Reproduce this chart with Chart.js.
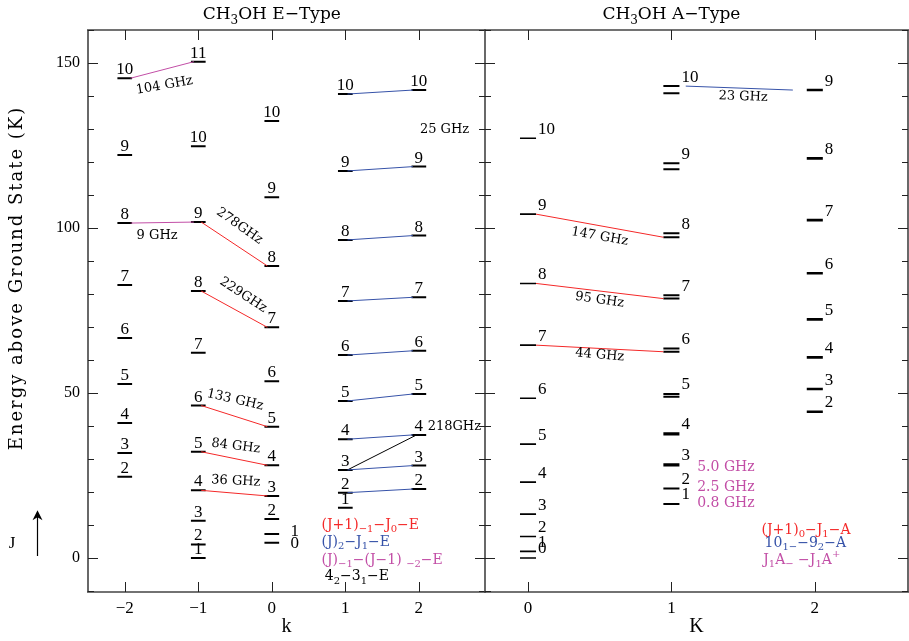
<!DOCTYPE html>
<html><head><meta charset="utf-8">
<script src="https://cdn.jsdelivr.net/npm/chart.js@4.4.1/dist/chart.umd.min.js"></script>
<style>
html,body{margin:0;padding:0;background:#fff;overflow:hidden}
#wrap{position:relative;width:909px;height:641px}
canvas{position:absolute;top:0}
#cL{left:0}
#cR{left:484px}
</style></head><body>
<div id="wrap"><canvas id="cL" width="486" height="641"></canvas><canvas id="cR" width="425" height="641"></canvas></div>
<script>
// ================= DATA =================
// E-type levels: J values and energies (K) for each k ladder
const eJ_m2 = [2,3,4,5,6,7,8,9,10];
const eE_m2 = [24.6,31.8,40.9,52.7,66.7,82.7,101.5,122.1,145.4];
const eJ_m1 = [1,2,3,4,5,6,7,8,9,10,11];
const eE_m1 = [0,4.1,11.3,20.5,32.2,46.2,62.2,80.9,101.8,124.8,150.4];
const eJ_0  = [0,1,2,3,4,5,6,7,8,9,10];
const eE_0  = [4.6,7.3,11.8,18.8,28.1,39.8,53.6,69.9,88.5,109.3,132.4];
const eJ_p1 = [1,2,3,4,5,6,7,8,9,10];
const eE_p1 = [15.2,19.8,26.7,36.0,47.6,61.5,77.9,96.4,117.3,140.6];
const eJ_p2 = [2,3,4,5,6,7,8,9,10];
const eE_p2 = [20.9,28.0,37.3,49.7,62.8,79.0,97.7,118.6,141.8];

// E-type transitions: [k_from, J_from, k_to, J_to]
const eRed     = [[-1,4,0,3],[-1,5,0,4],[-1,6,0,5],[-1,8,0,7],[-1,9,0,8]];
const eBlue    = [[1,2,2,2],[1,3,2,3],[1,4,2,4],[1,5,2,5],[1,6,2,6],[1,7,2,7],[1,8,2,8],[1,9,2,9],[1,10,2,10]];
const eMagenta = [[-2,10,-1,11],[-2,8,-1,9]];
const eBlack   = [[1,3,2,4]];
const eTransText = ['104 GHz','9 GHz','278GHz','229GHz','133 GHz','84 GHz','36 GHz','218GHz','25 GHz'];
const eLegend = ['(J+1)_{−1}−J_{0}−E','(J)_{2}−J_{1}−E','(J)_{−1}−(J−1) _{−2}−E','4_{2}−3_{1}−E'];

// A-type levels
const aJ_0 = [0,1,2,3,4,5,6,7,8,9,10];
const aE_0 = [0,2.0,6.5,13.3,23.0,34.5,48.4,64.5,83.2,104.2,127.2];
const aJ_1 = [1,2,3,4,5,6,7,8,9,10];
const aE_1hi = [16.4,21.1,28.4,37.8,49.7,63.5,79.6,98.4,119.6,143.0];
const aE_1lo = [16.4,21.1,28.0,37.4,48.9,62.5,78.6,97.2,117.8,140.8];
const aJ_2 = [2,3,4,5,6,7,8,9];
const aE_2 = [44.3,51.2,60.8,72.3,86.3,102.4,121.1,141.8];
// A-type transitions
const aRed  = [[0,7,1,6],[0,8,1,7],[0,9,1,8]];   // K=0 J -> K=1 (lower) J-1
const aBlue = [[1,10,2,9]];                      // K=1 (upper) 10 -> K=2 9
const aTransText = ['23 GHz','147 GHz','95 GHz','44 GHz'];
const aSplitText = ['5.0 GHz','2.5 GHz','0.8 GHz'];
const aLegend = ['(J+1)_{0}−J_{1}−A','10_{1}_{−}−9_{2}−A','J_{1}A_{−} −J_{1}A^{+}'];

const eTicks = [-2,-1,0,1,2];
const aTicks = [0,1,2];

// ================= STYLE / PLACEMENT =================
const RED='#f42828', BLUE='#3652a8', MAG='#c24ea6';
const SERIF='"Liberation Serif", serif', WIDE='"DejaVu Serif", serif';
const ePlace = [ // placement of eTransText (data coords, rotation deg, align)
  {x:-1.46,y:143.2,r:-10},{x:-1.56,y:97.6,r:0},{x:-0.44,y:100.6,r:35},{x:-0.39,y:79.7,r:33},
  {x:-0.50,y:47.9,r:13},{x:-0.49,y:33.9,r:7},{x:-0.49,y:23.3,r:3},{x:2.12,y:39.7,r:0,a:'left'},{x:2.35,y:129.7,r:0}];
const aPlace = [{x:1.50,y:139.8,r:2},{x:0.50,y:97.4,r:10},{x:0.50,y:78.2,r:8},{x:0.50,y:61.5,r:5}];
const aSplitPlace = [{x:1.18,y:27.6},{x:1.18,y:21.5},{x:1.18,y:16.7}];
const eLegPlace = [{x:0.676,y:10.0,c:RED},{x:0.676,y:4.75,c:BLUE},{x:0.676,y:-0.6,c:MAG},{x:0.72,y:-5.7,c:'#000'}];
const aLegPlace = [{x:1.628,y:8.5,c:RED},{x:1.65,y:4.5,c:BLUE},{x:1.64,y:-0.6,c:MAG}];

const eLevels = [
  {k:-2,J:eJ_m2,E:eE_m2},{k:-1,J:eJ_m1,E:eE_m1},{k:0,J:eJ_0,E:eE_0},{k:1,J:eJ_p1,E:eE_p1},{k:2,J:eJ_p2,E:eE_p2}];
const aLevels0 = {k:0,J:aJ_0,E:aE_0};
const aLevels1hi = {k:1,J:aJ_1,E:aE_1hi};
const aLevels1lo = {k:1,J:aJ_1,E:aE_1lo};
const aLevels2 = {k:2,J:aJ_2,E:aE_2};

function findE(levels,k,J){const L=levels.find(l=>l.k===k);return L.E[L.J.indexOf(J)];}
function levelSegs(levels,half){const p=[];levels.forEach(L=>L.E.forEach(e=>{p.push({x:L.k-half,y:e},{x:L.k+half,y:e},{x:null,y:null});}));return p;}
function transSegs(list,fromLv,toLv,d1,d2){const p=[];list.forEach(t=>{p.push({x:t[0]+d1,y:findE(fromLv,t[0],t[1])},{x:t[2]-d2,y:findE(toLv,t[2],t[3])},{x:null,y:null});});return p;}
function ds(data,color,w){return {data,borderColor:color,backgroundColor:color,borderWidth:w,showLine:true,pointRadius:0,spanGaps:false,fill:false,tension:0};}

function drawRich(ctx,x,y,str,o){
  const parts=[];let i=0;
  const isM=(j)=>(str[j]==='_'||str[j]==='^')&&str[j+1]==='{';
  while(i<str.length){
    if(isM(i)){const end=str.indexOf('}',i);parts.push({t:str.slice(i+2,end),m:str[i]});i=end+1;}
    else{let j=i;while(j<str.length&&!isM(j))j++;parts.push({t:str.slice(i,j),m:''});i=j;}
  }
  const fs=o.size,ss=Math.round(fs*0.72);
  const fm=`${fs}px ${o.family}`,fsb=`${ss}px ${o.family}`;
  let w=0;parts.forEach(p=>{ctx.font=p.m?fsb:fm;p.w=ctx.measureText(p.t).width;w+=p.w;});
  ctx.save();ctx.translate(x,y);if(o.rot)ctx.rotate(o.rot*Math.PI/180);
  let cx=o.align==='center'?-w/2:o.align==='right'?-w:0;
  ctx.fillStyle=o.color||'#000';ctx.textBaseline='middle';ctx.textAlign='left';
  parts.forEach(p=>{ctx.font=p.m?fsb:fm;const dy=p.m==='_'?fs*0.32:p.m==='^'?-fs*0.38:0;ctx.fillText(p.t,cx,dy);cx+=p.w;});
  ctx.restore();
}

function frameAndTicks(chart,sides){
  const {ctx,chartArea:a,scales:{x,y}}=chart;
  ctx.save();
  ctx.strokeStyle='#444';ctx.lineWidth=1.6;
  ctx.beginPath();
  ctx.moveTo(a.left-1,a.top);ctx.lineTo(a.right+1,a.top);
  ctx.moveTo(a.left-1,a.bottom);ctx.lineTo(a.right+1,a.bottom);
  if(sides.left){ctx.moveTo(a.left,a.top);ctx.lineTo(a.left,a.bottom);}
  if(sides.right){ctx.moveTo(a.right,a.top);ctx.lineTo(a.right,a.bottom);}
  ctx.stroke();
  ctx.strokeStyle='#222';ctx.lineWidth=1;ctx.beginPath();
  y.ticks.forEach(t=>{
    if(Math.abs(t.value%10)>1e-6)return;
    const py=Math.round(y.getPixelForValue(t.value))+0.5;
    const L=(t.value%50===0)?10:6;
    if(sides.tl){ctx.moveTo(a.left,py);ctx.lineTo(a.left+L,py);}
    if(sides.tr){ctx.moveTo(a.right,py);ctx.lineTo(a.right-L,py);}
  });
  x.ticks.forEach(t=>{
    if(!Number.isInteger(t.value))return;
    const px=Math.round(x.getPixelForValue(t.value))+0.5;
    ctx.moveTo(px,a.top);ctx.lineTo(px,a.top+10);
    ctx.moveTo(px,a.bottom);ctx.lineTo(px,a.bottom-10);
  });
  ctx.stroke();
  ctx.restore();
}

// ================= LEFT (E-type) =================
const leftDatasets=[
  ds(transSegs(eRed,eLevels,eLevels,0.04,0.06),RED,1),
  ds(transSegs(eBlue,eLevels,eLevels,0.03,0.08),BLUE,1),
  ds(transSegs(eMagenta,eLevels,eLevels,0.08,0.06),MAG,1),
  ds(transSegs(eBlack,eLevels,eLevels,0.03,0.03),'#000',1),
  ds(levelSegs(eLevels,0.1),'#000',2)
];
const leftDeco={id:'leftDeco',afterDatasetsDraw(chart){
  const {ctx,scales:{x,y}}=chart;
  frameAndTicks(chart,{left:true,right:true,tl:true,tr:true});
  ctx.save();
  ctx.fillStyle='#000';ctx.font=`17px ${SERIF}`;ctx.textAlign='center';ctx.textBaseline='alphabetic';
  eLevels.forEach(L=>L.J.forEach((J,i)=>{
    const px=x.getPixelForValue(L.k),py=y.getPixelForValue(L.E[i]);
    if(L.k===0&&J<=1){ctx.textBaseline='middle';ctx.fillText(String(J),px+23,py+(J===1?-2:1));ctx.textBaseline='alphabetic';}
    else ctx.fillText(String(J),px,py-4);
  }));
  eTransText.forEach((t,i)=>{const p=ePlace[i];
    drawRich(ctx,x.getPixelForValue(p.x),y.getPixelForValue(p.y),t,{size:13,family:WIDE,rot:p.r,align:p.a||'center',color:'#000'});});
  eLegend.forEach((t,i)=>{const p=eLegPlace[i];
    drawRich(ctx,x.getPixelForValue(p.x),y.getPixelForValue(p.y),t,{size:14,family:WIDE,align:'left',color:p.c});});
  // panel title
  drawRich(ctx,x.getPixelForValue(0),15,'CH_{3}OH E−Type',{size:17,family:WIDE,align:'center',color:'#000'});
  // y axis title
  ctx.save();ctx.translate(17,278);ctx.rotate(-Math.PI/2);
  ctx.font=`18px ${WIDE}`;ctx.letterSpacing='2px';ctx.textAlign='center';ctx.textBaseline='middle';ctx.fillStyle='#000';
  ctx.fillText('Energy above Ground State (K)',0,0);ctx.restore();
  // J arrow
  ctx.font=`17px ${SERIF}`;ctx.textAlign='center';ctx.textBaseline='middle';ctx.fillText('J',12,y.getPixelForValue(4.5));
  const y0=y.getPixelForValue(0.6),y1=y.getPixelForValue(14.5);
  ctx.strokeStyle='#000';ctx.lineWidth=1.2;ctx.beginPath();ctx.moveTo(37.5,y0);ctx.lineTo(37.5,y1+4);ctx.stroke();
  ctx.beginPath();ctx.moveTo(37.5,y1);ctx.lineTo(32.5,y1+10);ctx.lineTo(37.5,y1+7);ctx.lineTo(42.5,y1+10);ctx.closePath();ctx.fill();
  ctx.restore();
}};

const tickFont={family:'Liberation Serif',size:17};
new Chart(document.getElementById('cL'),{
  type:'scatter',data:{datasets:leftDatasets},
  options:{responsive:false,animation:false,events:[],
    layout:{padding:{top:30,right:1,left:0,bottom:0}},
    plugins:{legend:{display:false},tooltip:{enabled:false}},
    scales:{
      x:{type:'linear',min:-2.5,max:2.9,afterFit(s){s.height=49;},grid:{display:false,drawTicks:false},border:{display:false},
        ticks:{stepSize:1,includeBounds:false,padding:6,color:'#000',font:tickFont,callback:v=>eTicks.includes(v)?String(v).replace('-','−'):''},
        title:{display:true,text:'k',color:'#000',font:{family:'Liberation Serif',size:20},padding:{top:0,bottom:2}}},
      y:{type:'linear',min:-10.3,max:160,afterFit(s){s.width=88;},grid:{display:false,drawTicks:false},border:{display:false},
        ticks:{stepSize:10,includeBounds:false,autoSkip:false,padding:8,color:'#000',font:{family:'Liberation Serif',size:16},callback:v=>(v%50===0)?String(v):''}}
    }},
  plugins:[leftDeco]
});

// ================= RIGHT (A-type) =================
const aAll=[aLevels0,aLevels1lo,aLevels2];
const aAllHi=[aLevels0,aLevels1hi,aLevels2];
const rightDatasets=[
  ds(transSegs(aRed,aAll,aAll,0.056,0.056),RED,1),
  ds(transSegs(aBlue,aAllHi,aAllHi,0.1,0.153),BLUE,1),
  ds(levelSegs([aLevels0],0.056),'#000',1.6),
  ds(levelSegs([aLevels1hi,aLevels1lo],0.056),'#000',2),
  ds(levelSegs([aLevels2],0.056),'#000',2.6)
];
const rightDeco={id:'rightDeco',afterDatasetsDraw(chart){
  const {ctx,scales:{x,y}}=chart;
  frameAndTicks(chart,{left:false,right:true,tl:true,tr:true});
  ctx.save();
  ctx.fillStyle='#000';ctx.font=`17px ${SERIF}`;ctx.textAlign='left';ctx.textBaseline='middle';
  [aLevels0,aLevels1hi,aLevels2].forEach(L=>L.J.forEach((J,i)=>{
    const px=x.getPixelForValue(L.k+0.056)+2,py=y.getPixelForValue(L.E[i]);
    ctx.fillText(String(J),px,py-9);
  }));
  aTransText.forEach((t,i)=>{const p=aPlace[i];
    drawRich(ctx,x.getPixelForValue(p.x),y.getPixelForValue(p.y),t,{size:13,family:WIDE,rot:p.r,align:'center',color:'#000'});});
  aSplitText.forEach((t,i)=>{const p=aSplitPlace[i];
    drawRich(ctx,x.getPixelForValue(p.x),y.getPixelForValue(p.y),t,{size:14,family:WIDE,align:'left',color:MAG});});
  aLegend.forEach((t,i)=>{const p=aLegPlace[i];
    drawRich(ctx,x.getPixelForValue(p.x),y.getPixelForValue(p.y),t,{size:14,family:WIDE,align:'left',color:p.c});});
  drawRich(ctx,x.getPixelForValue(1),15,'CH_{3}OH A−Type',{size:17,family:WIDE,align:'center',color:'#000'});
  ctx.restore();
}};
new Chart(document.getElementById('cR'),{
  type:'scatter',data:{datasets:rightDatasets},
  options:{responsive:false,animation:false,events:[],
    layout:{padding:{top:30,right:1,left:1,bottom:0}},
    plugins:{legend:{display:false},tooltip:{enabled:false}},
    scales:{
      x:{type:'linear',min:-0.3,max:2.65,afterFit(s){s.height=49;},grid:{display:false,drawTicks:false},border:{display:false},
        ticks:{stepSize:1,includeBounds:false,padding:6,color:'#000',font:tickFont,callback:v=>aTicks.includes(v)?String(v):''},
        title:{display:true,text:'K',color:'#000',font:{family:'Liberation Serif',size:20},padding:{top:0,bottom:2}}},
      y:{type:'linear',min:-10.3,max:160,afterFit(s){s.width=0;},grid:{display:false,drawTicks:false},border:{display:false},
        ticks:{display:false,stepSize:10,includeBounds:false,autoSkip:false}}
    }},
  plugins:[rightDeco]
});
</script>
</body></html>
